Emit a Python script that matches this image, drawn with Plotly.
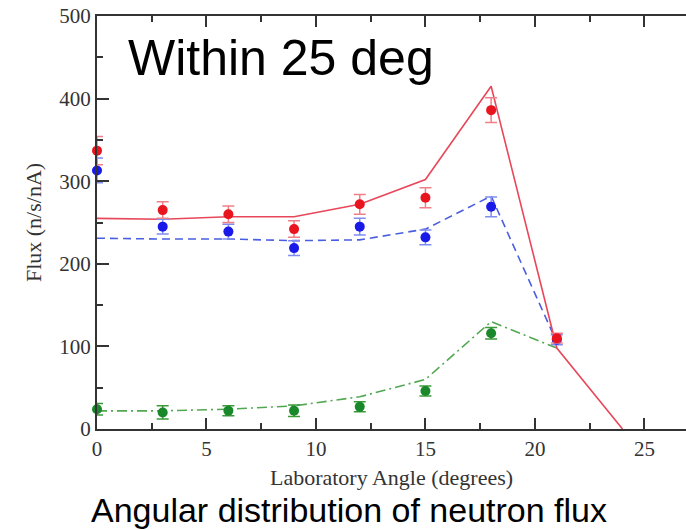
import plotly.graph_objects as go

# ---- data ----
angles = [0, 3, 6, 9, 12, 15, 18, 21]
red_meas = [337, 265, 260, 242, 272, 280, 386, 110]
red_err = [17, 10, 10, 10, 12, 12, 15, 6]
blue_meas = [313, 245, 239, 219, 245, 232, 269, 108]
blue_err = [15, 9, 9, 9, 10, 9, 12, 6]
green_angles = [0, 3, 6, 9, 12, 15, 18]
green_meas = [24, 20, 22, 22, 27, 46, 116]
green_err = [7, 8, 6, 7, 6, 6, 7]

red_calc_x = [0, 3, 6, 9, 12, 15, 18, 21, 24]
red_calc = [255, 254, 257, 257, 272, 302, 415, 98, 0]
blue_calc_x = [0, 3, 6, 9, 12, 15, 18, 21]
blue_calc = [231, 230, 230, 228, 229, 242, 282, 105]
green_calc_x = [0, 3, 6, 9, 12, 15, 18, 21]
green_calc = [22, 22, 24, 28, 39, 60, 130, 98]

x_ticks = [0, 5, 10, 15, 20, 25]
y_ticks = [0, 100, 200, 300, 400, 500]

fig = go.Figure()

# calculation lines
fig.add_trace(go.Scatter(x=green_calc_x, y=green_calc, mode="lines",
                         line=dict(color="#52a852", width=1.6, dash="10px,4px,2px,4px"),
                         cliponaxis=False, showlegend=False))
fig.add_trace(go.Scatter(x=blue_calc_x, y=blue_calc, mode="lines",
                         line=dict(color="#4a5fe0", width=1.6, dash="8px,5px"),
                         cliponaxis=False, showlegend=False))
fig.add_trace(go.Scatter(x=red_calc_x, y=red_calc, mode="lines",
                         line=dict(color="#e8475a", width=1.6),
                         cliponaxis=False, showlegend=False))

# measured points
def pts(x, y, e, mc, ec):
    return go.Scatter(x=x, y=y, mode="markers",
                      marker=dict(color=mc, size=10),
                      error_y=dict(type="data", array=e, color=ec, thickness=1.5, width=6),
                      cliponaxis=False, showlegend=False)

fig.add_trace(pts(green_angles, green_meas, green_err, "#18882a", "#3a9a3a"))
fig.add_trace(pts(angles, blue_meas, blue_err, "#1a1ae8", "#7f8cf0"))
fig.add_trace(pts(angles, red_meas, red_err, "#e8141e", "#f08088"))

serif = "Liberation Serif, Times New Roman, serif"

fig.update_layout(
    width=686, height=530,
    margin=dict(l=97, r=0, t=16, b=101),
    plot_bgcolor="white", paper_bgcolor="white",
    xaxis=dict(range=[0, 26.9], tickvals=x_ticks, ticks="inside", ticklen=11,
               tickwidth=2, tickcolor="#333", showline=True, linecolor="#333",
               linewidth=2, mirror="ticks", showgrid=False, zeroline=False,
               minor=dict(ticks="inside", dtick=2.5, tick0=0, ticklen=6, tickwidth=2, tickcolor="#333"),
               tickfont=dict(family=serif, size=21, color="#333"),
               title=dict(text="Laboratory Angle (degrees)", standoff=9,
                          font=dict(family=serif, size=22, color="#333"))),
    yaxis=dict(range=[0, 500], tickvals=y_ticks, ticks="inside", ticklen=12,
               tickwidth=2, tickcolor="#333", showline=True, linecolor="#333",
               linewidth=2, mirror=False, showgrid=False, zeroline=False,
               minor=dict(ticks="inside", dtick=50, tick0=0, ticklen=6, tickwidth=2, tickcolor="#333"),
               tickfont=dict(family=serif, size=21, color="#333"),
               title=dict(text="Flux (n/s/nA)", standoff=12,
                          font=dict(family=serif, size=22, color="#333"))),
    annotations=[
        dict(text="Within 25 deg", xref="paper", yref="paper", x=0.05, y=0.898,
             xanchor="left", yanchor="middle", showarrow=False,
             font=dict(family="Liberation Sans, Arial, sans-serif", size=50, color="black")),
        dict(text="Angular distribution of neutron flux", xref="paper", yref="paper",
             x=0.428, y=-0.197, xanchor="center", yanchor="middle", showarrow=False,
             font=dict(family="Liberation Sans, Arial, sans-serif", size=34, color="black")),
    ],
)

fig.write_html("out.html")
